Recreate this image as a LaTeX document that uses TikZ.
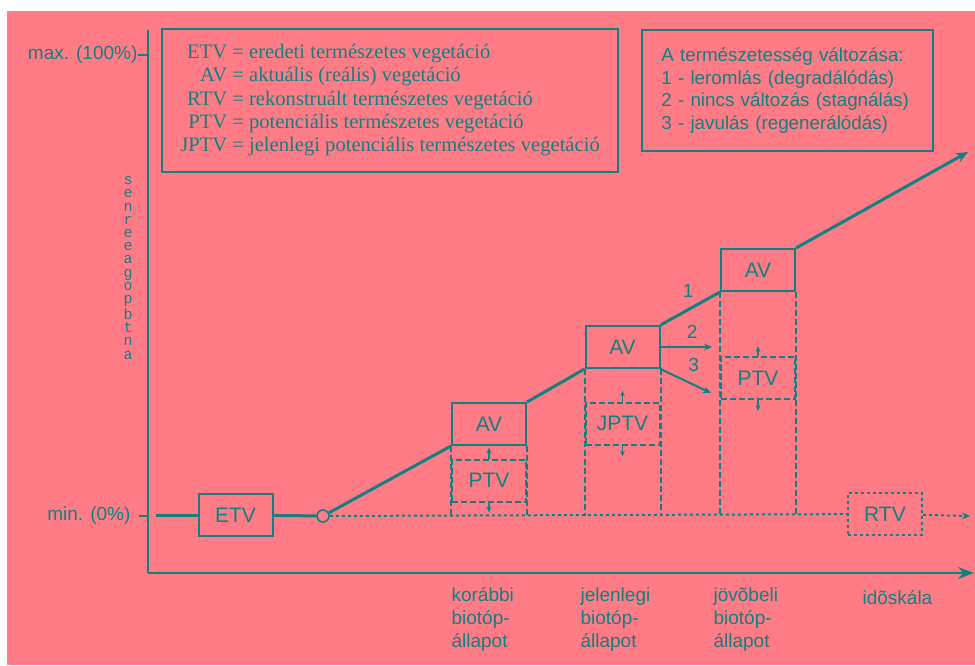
\documentclass[tikz,border=0pt]{standalone}
\usepackage{fontspec}
\setmainfont{Liberation Serif}
\setsansfont{Liberation Sans}
\setmonofont{Liberation Mono}
\usetikzlibrary{arrows,arrows.meta}
\definecolor{bg_pink}{RGB}{255,124,134}
\definecolor{line_teal}{RGB}{16,128,128}

\begin{document}
\begin{tikzpicture}[x=0.5pt,y=-0.5pt,semithick,>=stealth',line_teal]
    \tikzstyle{box}=[draw=line_teal, line width=1pt, minimum width=37pt, minimum height=21pt, inner sep=0pt, text=line_teal, font=\sffamily\fontsize{10.5}{12}\selectfont]
    \tikzstyle{pbox}=[style=box, dash pattern=on 3pt off 1.5pt]
    \tikzstyle{rbox}=[style=box, dash pattern=on 1.5pt off 1.5pt]
    \tikzstyle{col}=[line width=1pt, dash pattern=on 3pt off 1.5pt]
    \tikzstyle{dotline}=[line width=1pt, dash pattern=on 1.5pt off 1.5pt]
    \tikzstyle{trend}=[line width=1.5pt]
    \tikzstyle{lbl}=[text=line_teal, font=\sffamily\fontsize{9.5}{11.5}\selectfont, align=left, inner sep=0pt]
    \tikzstyle{small}=[-{Stealth[length=3pt,width=2.5pt]}, line width=0.6pt]

    \useasboundingbox (0,0) rectangle (975,665);
    \fill[bg_pink] (7,11) rectangle (975,665);

    % axes
    \coordinate (ytop) at (148,30);
    \coordinate (orig) at (148,573);
    \coordinate (xend) at (974,573);
    \draw[line width=1.2pt] (ytop) -- (orig);
    \draw[line width=1.2pt, -{Stealth[length=8pt,width=6pt]}] (orig) -- (xend);

    \node[lbl, anchor=east] (maxlbl) at (138,55) {max. (100\%)};
    \node[lbl, anchor=east] (minlbl) at (131,516) {min. (0\%)};
    \draw[line width=0.8pt] (maxlbl.east) -- (ytop |- maxlbl);
    \draw[line width=0.8pt] ([xshift=4pt]minlbl.east) -- ([xshift=8pt]minlbl.east);
    \node[lbl, font={\ttfamily\fontsize{7.5}{6.6}\selectfont}, align=center] (ylbl) at (128,268)
      {s\\e\\n\\r\\e\\e\\a\\g\\o\\p\\b\\t\\n\\a};

    % legends
    \node[draw, line width=0.8pt, minimum width=228pt, minimum height=71.5pt, inner sep=0pt,
          font=\rmfamily\fontsize{10.3}{11.6}\selectfont] (legend) at (390,100.5)
      {\begin{tabular}{@{}r@{ = }l@{}}
        ETV & eredeti természetes vegetáció\\
        AV & aktuális (reális) vegetáció\\
        RTV & rekonstruált természetes vegetáció\\
        PTV & potenciális természetes vegetáció\\
        JPTV & jelenlegi potenciális természetes vegetáció
       \end{tabular}};
    \node[draw, line width=0.8pt, anchor=north west, minimum width=145.5pt, minimum height=60.5pt,
          text width=126pt, inner xsep=9.75pt, inner ysep=0pt, align=left,
          font=\sffamily\fontsize{9.4}{11.25}\selectfont] (change) at (641,29)
      {A természetesség változása:\\
       1 - leromlás (degradálódás)\\
       2 - nincs változás (stagnálás)\\
       3 - javulás (regenerálódás)};

    % boxes
    \node[box] (etv) at (235.5,515) {ETV};
    \node[box] (av1) at (489,424) {AV};
    \node[pbox] (ptv1) at (489,480.5) {PTV};
    \node[box] (av2) at (622.5,347) {AV};
    \node[pbox] (jptv) at (622.5,423.5) {JPTV};
    \node[box] (av3) at (758,270) {AV};
    \node[pbox] (ptv3) at (758,378) {PTV};
    \node[rbox] (rtv) at (885,514) {RTV};
    \node[circle, draw, line width=0.8pt, minimum size=6pt, inner sep=0pt, fill=bg_pink] (ring) at (323,516) {};

    % columns under the boxes
    \coordinate (base) at (0,516);
    \foreach \b in {av1,av2,av3}{
      \draw[col] (\b.south west) -- (\b.south west |- base);
      \draw[col] (\b.south east) -- (\b.south east |- base);
    }
    \draw[small] (ptv1.north) -- ++(0,-11);
    \draw[small] (ptv1.south) -- ++(0,10);
    \draw[small] (jptv.north) -- ++(0,-11);
    \draw[small] (jptv.south) -- ++(0,11);
    \draw[small] (ptv3.north) -- ++(0,-10);
    \draw[small] (ptv3.south) -- ++(0,11);

    % trend line
    \coordinate (lstart) at (156,515);
    \coordinate (tip) at (968,152);
    \coordinate (c2) at (712,347);
    \coordinate (c3) at (711,393);
    \coordinate (dend) at (970,516);
    \draw[trend] (lstart) -- (etv);
    \draw[trend] (etv) -- (ring);
    \draw[trend] (ring) -- (av1.south west);
    \draw[trend] (av1.north east) -- (av2.south west);
    \draw[trend] (av2.north east) -- node[lbl, above=5pt, xshift=-1pt] {1} (av3.south west);
    \draw[trend, -{Stealth[length=6pt,width=5pt]}] (av3.north east) -- (tip);
    \draw[line width=1pt, -{Stealth[length=4pt,width=3.5pt]}] (av2.east) -- node[lbl, above=4pt, xshift=3pt] {2} (c2);
    \draw[line width=1pt, -{Stealth[length=4pt,width=3.5pt]}] (av2.south east) -- node[lbl, above=4pt, xshift=4pt] {3} (c3);
    \draw[dotline] (ring) -- (rtv);
    \draw[dotline, -{Stealth[length=4pt,width=3.5pt]}] (rtv) -- (dend);

    % time labels
    \node[lbl, anchor=north west] (t1) at (451,587) {korábbi\\biotóp-\\állapot};
    \node[lbl, anchor=north west] (t2) at (580,587) {jelenlegi\\biotóp-\\állapot};
    \node[lbl, anchor=north west] (t3) at (713,587) {jövõbeli\\biotóp-\\állapot};
    \node[lbl, anchor=north west] (tscale) at (862,590) {idõskála};
\end{tikzpicture}
\end{document}
